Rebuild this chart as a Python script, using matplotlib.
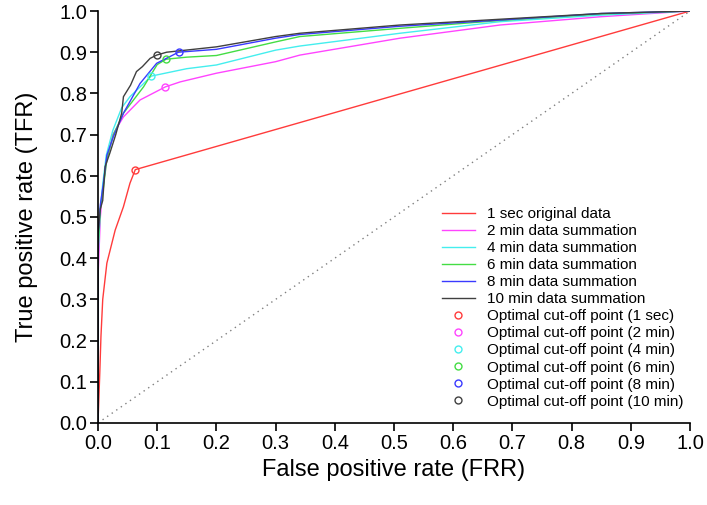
import matplotlib
matplotlib.use("Agg")
import matplotlib.pyplot as plt
import numpy as np

plt.rcParams['font.family'] = ['Liberation Sans', 'DejaVu Sans']

# ROC curves (FPR, TPR)
fpr_1s = [0.0, 0.003, 0.005, 0.008, 0.015, 0.029, 0.043, 0.054, 0.063, 1.0]
tpr_1s = [0.0, 0.12, 0.21, 0.30, 0.388, 0.468, 0.525, 0.582, 0.615, 1.0]

fpr_2m = [0.0, 0.0, 0.004, 0.008, 0.015, 0.025, 0.043, 0.071, 0.114, 0.139, 0.2, 0.3, 0.341, 0.51, 0.679, 0.848, 1.0]
tpr_2m = [0.0, 0.35, 0.5, 0.57, 0.64, 0.70, 0.743, 0.784, 0.816, 0.828, 0.849, 0.877, 0.893, 0.934, 0.966, 0.986, 1.0]

fpr_4m = [0.0, 0.0, 0.004, 0.008, 0.014, 0.025, 0.04, 0.054, 0.09, 0.15, 0.2, 0.3, 0.341, 0.51, 0.679, 0.85, 1.0]
tpr_4m = [0.0, 0.40, 0.52, 0.58, 0.65, 0.71, 0.765, 0.792, 0.842, 0.86, 0.869, 0.905, 0.915, 0.946, 0.974, 0.99, 1.0]

fpr_6m = [0.0, 0.0, 0.004, 0.009, 0.015, 0.026, 0.043, 0.077, 0.1, 0.115, 0.15, 0.2, 0.3, 0.341, 0.51, 0.679, 0.85, 1.0]
tpr_6m = [0.0, 0.42, 0.52, 0.57, 0.64, 0.70, 0.752, 0.816, 0.87, 0.883, 0.888, 0.892, 0.925, 0.938, 0.958, 0.977, 0.993, 1.0]

fpr_8m = [0.0, 0.0, 0.004, 0.009, 0.015, 0.026, 0.043, 0.071, 0.099, 0.136, 0.2, 0.3, 0.341, 0.51, 0.679, 0.85, 1.0]
tpr_8m = [0.0, 0.45, 0.53, 0.58, 0.65, 0.695, 0.752, 0.824, 0.873, 0.90, 0.907, 0.934, 0.943, 0.963, 0.978, 0.994, 1.0]

fpr_10m = [0.0, 0.0, 0.004, 0.008, 0.012, 0.02, 0.03, 0.04, 0.043, 0.055, 0.065, 0.075, 0.088, 0.099, 0.116, 0.2, 0.3, 0.341, 0.51, 0.679, 0.85, 1.0]
tpr_10m = [0.0, 0.46, 0.52, 0.54, 0.622, 0.655, 0.70, 0.752, 0.792, 0.82, 0.853, 0.865, 0.885, 0.893, 0.90, 0.913, 0.938, 0.946, 0.966, 0.98, 0.994, 1.0]

# optimal cut-off points
cut_x = [0.063, 0.114, 0.09, 0.115, 0.136, 0.099]
cut_y = [0.615, 0.816, 0.842, 0.883, 0.90, 0.893]

names = ["1 sec original data", "2 min data summation", "4 min data summation",
         "6 min data summation", "8 min data summation", "10 min data summation"]
cut_names = ["Optimal cut-off point (1 sec)", "Optimal cut-off point (2 min)",
             "Optimal cut-off point (4 min)", "Optimal cut-off point (6 min)",
             "Optimal cut-off point (8 min)", "Optimal cut-off point (10 min)"]
colors = ["#ff3b3b", "#ff44ff", "#44eeee", "#44dd44", "#3a3aff", "#404040"]

curves = [(fpr_1s, tpr_1s), (fpr_2m, tpr_2m), (fpr_4m, tpr_4m),
          (fpr_6m, tpr_6m), (fpr_8m, tpr_8m), (fpr_10m, tpr_10m)]

fig = plt.figure(figsize=(7.07, 5.05), dpi=100)
ax = fig.add_axes([0.1386, 0.1624, 0.8374, 0.8158])

ax.plot([0, 1], [0, 1], linestyle=(0, (1, 3)), color="#808080", lw=1.0)

for (fx, ty), c, n in zip(curves, colors, names):
    ax.plot(fx, ty, color=c, lw=1.0, label=n)
for i in range(6):
    ax.plot(cut_x[i], cut_y[i], 'o', mfc='none', mec=colors[i], ms=5, mew=1.0,
            linestyle='none', label=cut_names[i])

ax.set_xlim(0, 1)
ax.set_ylim(0, 1)
ticks = np.arange(0, 1.01, 0.1)
ax.set_xticks(ticks)
ax.set_yticks(ticks)
ax.set_xticklabels(["%.1f" % v for v in ticks])
ax.set_yticklabels(["%.1f" % v for v in ticks])
ax.tick_params(direction='out', length=6, width=1.2, labelsize=14.5, pad=2)
ax.spines['top'].set_visible(False)
ax.spines['right'].set_visible(False)
ax.spines['left'].set_linewidth(1.2)
ax.spines['bottom'].set_linewidth(1.2)

ax.set_xlabel("False positive rate (FRR)", fontsize=17, labelpad=4)
ax.set_ylabel("True positive rate (TFR)", fontsize=17, labelpad=15)

ax.legend(loc='lower right', bbox_to_anchor=(1.0, 0.02), frameon=False,
          fontsize=11, handlelength=2.2, labelspacing=0.2, handletextpad=0.8,
          borderaxespad=0)

fig.savefig("out.png", dpi=100)
